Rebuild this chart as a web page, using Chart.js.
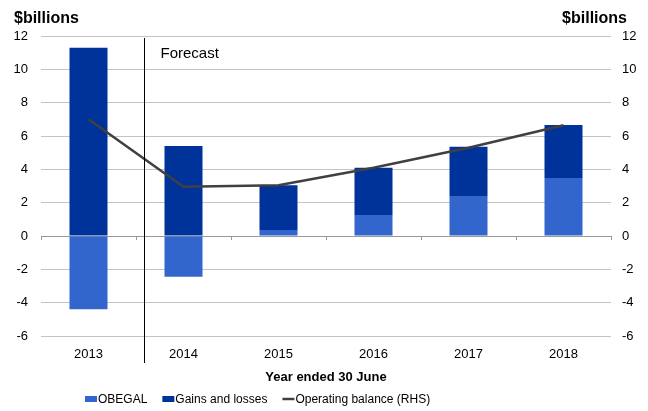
<!DOCTYPE html>
<html>
<head>
<meta charset="utf-8">
<script src="https://cdn.jsdelivr.net/npm/chart.js@4"></script>
<style>
  html, body { margin:0; padding:0; background:#fff; }
  #wrap { width:648px; height:411px; position:relative; }
</style>
</head>
<body>
<div id="wrap"><canvas id="balanceChart"></canvas></div>
<script>
// Operating balance: OBEGAL + gains/losses, $billions
const years = ['2013','2014','2015','2016','2017','2018'];
const obegal = [-4.4, -2.45, 0.36, 1.26, 2.36, 3.48];
const gainsLosses = [11.3, 5.4, 2.68, 2.84, 3.0, 3.18];
const operatingBalance = [7.0, 2.95, 3.05, 4.1, 5.3, 6.65];
const axisMin = -6, axisMax = 12, axisStep = 2;

const FONT = '"Liberation Sans", Arial, sans-serif';

// headings, forecast divider, zero-line ticks and the key
const extras = {
  id: 'extras',
  afterDraw(chart){
    const {ctx, chartArea, scales:{x, y}} = chart;
    ctx.save();
    ctx.fillStyle = '#000';
    ctx.font = 'bold 16px ' + FONT;
    ctx.textBaseline = 'alphabetic';
    ctx.textAlign = 'left';
    ctx.fillText('$billions', 14, 23);
    ctx.textAlign = 'right';
    ctx.fillText('$billions', 627, 23);

    // zero axis ticks at category boundaries
    const y0 = y.getPixelForValue(0);
    const step = x.getPixelForValue(1) - x.getPixelForValue(0);
    ctx.strokeStyle = '#999';
    ctx.lineWidth = 1;
    ctx.beginPath();
    for (let i = 0; i <= years.length; i++){
      const px = Math.round(x.getPixelForValue(0) - step/2 + i*step) + 0.5;
      ctx.moveTo(px, y0); ctx.lineTo(px, y0 + 4);
    }
    ctx.stroke();

    // forecast divider
    const fx = Math.round(x.getPixelForValue(0) + step/2 + 8) + 0.5;
    ctx.strokeStyle = '#000';
    ctx.beginPath();
    ctx.moveTo(fx, chartArea.top + 2);
    ctx.lineTo(fx, chartArea.bottom + 27);
    ctx.stroke();
    ctx.font = '15px ' + FONT;
    ctx.textAlign = 'left';
    ctx.fillText('Forecast', fx + 16, 58);

    // key
    const ly = 399;
    let lx = 85;
    ctx.font = '12px ' + FONT;
    ctx.textBaseline = 'middle';
    const order = [1, 2, 0];
    order.forEach(i => {
      const ds = chart.data.datasets[i];
      if (ds.type === 'line'){
        ctx.strokeStyle = ds.borderColor;
        ctx.lineWidth = 2.5;
        ctx.beginPath(); ctx.moveTo(lx, ly); ctx.lineTo(lx + 12, ly); ctx.stroke();
      } else {
        ctx.fillStyle = ds.backgroundColor;
        ctx.fillRect(lx, ly - 3, 12, 6);
      }
      lx += 13;
      ctx.fillStyle = '#000';
      ctx.fillText(ds.label, lx, ly + 1);
      lx += ctx.measureText(ds.label).width + 15;
    });
    ctx.restore();
  }
};

new Chart(document.getElementById('balanceChart'), {
  type: 'bar',
  data: {
    labels: years,
    datasets: [
      { type:'line', label:'Operating balance (RHS)', data: operatingBalance, yAxisID:'y1',
        borderColor:'#404040', backgroundColor:'#404040', borderWidth:2.5, pointRadius:0,
        tension:0, order:0 },
      { label:'OBEGAL', data: obegal, backgroundColor:'#3366cc', stack:'s', order:1 },
      { label:'Gains and losses', data: gainsLosses, backgroundColor:'#003399', stack:'s', order:1 }
    ]
  },
  options: {
    responsive:true, maintainAspectRatio:false, animation:false,
    layout: { padding: { top:36, left:0, right:0, bottom:25 } },
    datasets: { bar: { categoryPercentage:1, barPercentage:0.4 } },
    plugins: {
      tooltip: { enabled:false },
      legend: { display:false }
    },
    scales: {
      x: {
        stacked:true,
        grid:{ display:false, drawTicks:false },
        border:{ display:false },
        ticks:{ color:'#000', padding:11, font:{ family:FONT, size:13 } },
        title:{ display:true, text:'Year ended 30 June', color:'#000', padding:{ top:0, bottom:1 },
          font:{ family:FONT, size:13, weight:'bold' } },
        afterFit(s){ s.height = 50; }
      },
      y: {
        stacked:true, min:axisMin, max:axisMax,
        grid:{ color: c => c.tick.value === 0 ? '#999' : '#c4c4c4', drawTicks:false },
        border:{ display:false },
        ticks:{ stepSize:axisStep, color:'#000', padding:13, font:{ family:FONT, size:13 } },
        afterFit(s){ s.width = 41; }
      },
      y1: {
        position:'right', min:axisMin, max:axisMax,
        grid:{ display:false, drawTicks:false },
        border:{ display:false },
        ticks:{ stepSize:axisStep, color:'#000', padding:11, font:{ family:FONT, size:13 } },
        afterFit(s){ s.width = 37; }
      }
    }
  },
  plugins:[extras]
});
</script>
</body>
</html>
